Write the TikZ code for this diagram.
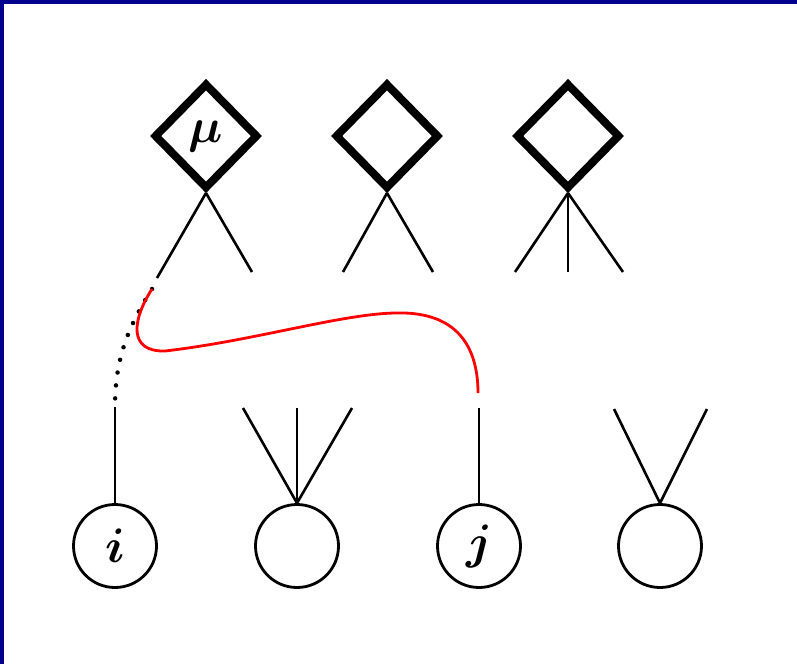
\documentclass[tikz,border=0pt]{standalone}
\usepackage{amsmath,amssymb}
\usepackage{graphicx}
\usepackage{tikz}
\usetikzlibrary{shapes.geometric}
\usetikzlibrary{positioning}
\definecolor{frameblue}{RGB}{0,0,140}
\newcommand{\biglabel}[1]{\scalebox{1.95}{$#1$}}

\begin{document}
\begin{tikzpicture}[x=1pt,y=-1pt,line width=2.6pt,
    vertex node/.style={diamond,draw,line width=8pt,minimum width=104pt,minimum height=106pt,
                        inner sep=0pt,font=\Huge\boldmath},
    site node/.style={circle,draw,line width=2.8pt,minimum size=83pt,inner sep=0pt,
                      font=\Huge\boldmath},
    leg/.style={line width=2.6pt},
    contraction/.style={red,line width=2.8pt},
    dotleg/.style={line width=4.5pt,line cap=round,dash pattern=on 0pt off 13pt}]

  \useasboundingbox (0,0) rectangle (797,664);
  \fill[frameblue] (0,0) rectangle (797,4);
  \fill[frameblue] (0,0) rectangle (4,664);

  % vertices (top row)
  \node[vertex node] (v1) at (206,136) {\biglabel{\mu}};
  \node[vertex node] (v2) at (387,136) {};
  \node[vertex node] (v3) at (568,136) {};

  % sites (bottom row)
  \node[site node] (s1) at (115,546) {\biglabel{i}};
  \node[site node] (s2) at (297,546) {};
  \node[site node] (s3) at (479,546) {\biglabel{j}};
  \node[site node] (s4) at (660,546) {};

  % free ends of the legs
  \coordinate (v1a) at (157,278);
  \coordinate (v1b) at (252,272);
  \coordinate (v2a) at (343,272);
  \coordinate (v2b) at (433,272);
  \coordinate (v3a) at (515,272);
  \coordinate (v3b) at (568,272);
  \coordinate (v3c) at (623,272);
  \coordinate (s1a) at (115,407);
  \coordinate (s2a) at (243,408);
  \coordinate (s2b) at (297,408);
  \coordinate (s2c) at (352,408);
  \coordinate (s3a) at (479,408);
  \coordinate (s4a) at (614,409);
  \coordinate (s4b) at (707,409);
  \coordinate (r1) at (152,289);
  \coordinate (r2) at (478,393);

  \path[leg]
    (v1.south) edge (v1a)
    (v1.south) edge (v1b)
    (v2.south) edge (v2a)
    (v2.south) edge (v2b)
    (v3.south) edge (v3a)
    (v3.south) edge (v3b)
    (v3.south) edge (v3c)
    (s1.north) edge (s1a)
    (s2.north) edge (s2a)
    (s2.north) edge (s2b)
    (s2.north) edge (s2c)
    (s3.north) edge (s3a)
    (s4.north) edge (s4a)
    (s4.north) edge (s4b);

  % dotted continuation and the contraction line
  \draw[dotleg] (r1) .. controls (126,330) and (115,362) .. (s1a);
  \draw[contraction] (r1) .. controls (132,320) and (128,352) .. (165,351)
    .. controls (260,340) and (350,311) .. (405,313)
    .. controls (460,315) and (478,350) .. (r2);
\end{tikzpicture}
\end{document}
